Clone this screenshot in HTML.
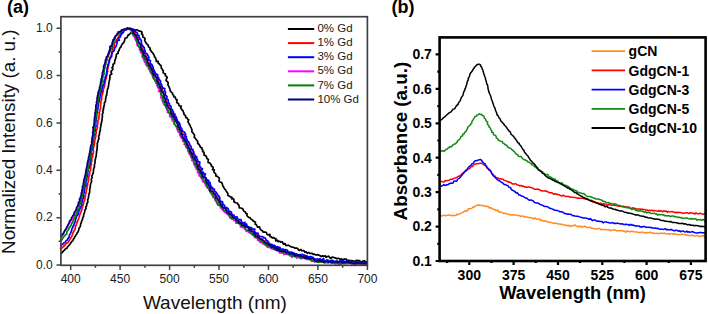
<!DOCTYPE html>
<html><head><meta charset="utf-8"><style>
html,body{margin:0;padding:0;background:#fff;}
body{width:708px;height:314px;overflow:hidden;}
svg{display:block;}
text{font-family:"Liberation Sans",sans-serif;}
.b{font-weight:bold;}
</style></head><body>
<svg width="708" height="314" viewBox="0 0 708 314">
<rect x="0" y="0" width="708" height="314" fill="#fff"/>

<g fill="none" stroke-width="1.7" stroke-linejoin="round" stroke-linecap="round">
<path stroke="#000000" d="M61.0 253.6 L61.9 252.8 L62.7 251.9 L63.4 250.9 L64.4 250.2 L65.1 249.2 L66.1 248.5 L67.2 247.9 L67.7 246.7 L68.4 245.8 L69.4 245.0 L70.1 244.1 L70.8 243.1 L71.4 242.0 L72.2 241.2 L73.1 240.3 L73.4 239.0 L74.3 238.2 L74.6 237.0 L75.4 236.1 L75.9 235.0 L76.8 234.1 L77.1 232.9 L78.0 232.0 L78.4 230.9 L78.8 229.8 L78.8 228.5 L79.7 227.5 L80.2 226.4 L80.6 225.3 L80.6 224.0 L81.2 223.0 L81.4 221.8 L81.8 220.7 L82.6 219.6 L82.5 218.4 L83.0 217.3 L83.6 216.2 L83.6 214.9 L84.0 213.8 L84.4 212.7 L84.8 211.5 L84.8 210.3 L85.5 209.2 L86.1 208.2 L85.8 206.8 L86.7 205.8 L86.8 204.6 L86.9 203.4 L87.8 202.4 L87.8 201.1 L87.6 199.9 L88.1 198.8 L88.5 197.6 L88.5 196.4 L88.9 195.3 L89.0 194.0 L89.4 192.9 L89.8 191.7 L89.5 190.5 L89.9 189.3 L89.9 188.1 L90.3 187.0 L90.2 185.7 L90.5 184.6 L90.8 183.4 L91.3 182.3 L91.6 181.1 L91.2 179.8 L91.6 178.7 L92.2 177.5 L91.8 176.2 L92.4 175.1 L92.7 174.0 L93.3 172.9 L93.4 171.7 L93.4 170.4 L93.6 169.3 L93.9 168.1 L94.5 167.0 L94.3 165.7 L94.5 164.6 L94.9 163.4 L95.0 162.2 L95.1 161.0 L95.1 159.8 L95.6 158.7 L95.6 157.4 L96.2 156.3 L96.3 155.1 L96.3 153.9 L96.6 152.7 L96.5 151.5 L97.0 150.4 L96.9 149.2 L97.3 148.0 L97.0 146.7 L97.5 145.6 L97.2 144.3 L97.3 143.1 L97.9 142.0 L98.0 140.8 L98.4 139.7 L99.1 138.6 L98.6 137.3 L98.8 136.1 L99.3 134.9 L99.5 133.8 L99.6 132.6 L99.8 131.4 L100.3 130.2 L100.4 129.1 L100.3 127.8 L100.7 126.7 L101.0 125.5 L100.9 124.3 L101.5 123.1 L101.4 121.9 L102.0 120.8 L102.0 119.6 L102.2 118.4 L102.2 117.2 L102.5 116.0 L102.2 114.8 L102.6 113.6 L103.1 112.5 L102.7 111.2 L103.5 110.1 L103.1 108.8 L103.9 107.7 L103.7 106.5 L104.3 105.4 L104.4 104.2 L104.3 102.9 L105.2 101.9 L105.5 100.7 L105.5 99.5 L105.7 98.3 L106.0 97.1 L106.1 95.9 L106.8 94.9 L106.7 93.6 L107.0 92.5 L107.1 91.3 L107.4 90.1 L107.5 88.9 L108.3 87.8 L108.2 86.6 L108.7 85.5 L108.7 84.2 L108.8 83.0 L109.1 81.9 L109.3 80.7 L109.7 79.5 L109.8 78.3 L110.0 77.2 L109.8 75.9 L110.3 74.8 L111.8 73.9 L111.0 72.4 L111.2 71.2 L112.1 70.3 L113.0 69.3 L112.0 67.7 L113.0 66.7 L113.1 65.5 L113.0 64.2 L114.5 63.5 L114.5 62.2 L114.9 61.1 L114.9 59.8 L115.8 58.8 L115.7 57.5 L116.3 56.5 L116.2 55.2 L116.6 54.0 L118.2 53.4 L117.9 51.9 L118.8 51.0 L119.2 49.9 L119.6 48.7 L120.1 47.7 L121.1 46.8 L121.3 45.6 L121.9 44.6 L122.6 43.5 L123.7 42.8 L124.1 41.6 L124.6 40.5 L124.8 39.3 L125.2 38.1 L126.8 37.7 L127.5 36.8 L127.8 35.5 L128.9 34.8 L129.8 34.0 L130.6 33.2 L131.5 32.5 L132.1 31.2 L133.6 31.4 L134.0 29.6 L135.5 30.2 L136.6 29.8 L137.7 30.0 L138.5 30.8 L139.4 31.2 L141.1 31.3 L142.0 32.2 L141.5 33.9 L142.7 34.6 L142.8 35.9 L142.9 37.2 L144.4 37.8 L145.1 38.8 L144.6 40.4 L145.2 41.4 L145.9 42.4 L146.3 43.5 L147.3 44.3 L148.2 45.2 L148.3 46.5 L149.3 47.3 L150.2 48.1 L150.0 49.7 L150.9 50.5 L151.3 51.7 L152.5 52.4 L153.0 53.5 L153.7 54.5 L154.3 55.5 L154.5 56.8 L155.5 57.6 L155.7 58.9 L156.3 59.9 L156.3 61.4 L158.3 61.4 L158.1 63.0 L159.2 63.8 L159.8 64.8 L161.0 65.5 L161.2 66.7 L161.3 68.1 L162.2 69.0 L162.6 70.1 L163.3 71.1 L163.1 72.5 L164.1 73.4 L165.5 74.1 L165.3 75.5 L166.3 76.4 L167.3 77.3 L166.5 78.9 L166.0 80.3 L167.0 81.3 L167.9 82.2 L168.2 83.4 L167.7 84.8 L168.5 85.8 L169.0 86.9 L169.5 88.0 L169.9 89.1 L170.1 90.4 L170.8 91.4 L171.5 92.4 L172.6 93.1 L172.6 94.5 L173.7 95.2 L173.7 96.7 L175.3 97.1 L175.5 98.4 L176.0 99.4 L177.2 100.1 L176.6 101.9 L177.3 102.9 L178.6 103.5 L178.7 104.8 L179.4 105.8 L181.3 106.1 L180.6 107.9 L181.4 108.8 L181.9 109.9 L183.0 110.7 L183.3 111.9 L183.9 112.9 L183.9 114.3 L184.9 115.1 L185.7 116.0 L185.7 117.4 L187.1 118.0 L187.6 119.1 L188.8 119.9 L187.8 121.6 L188.5 122.6 L189.0 123.7 L189.6 124.8 L190.2 125.8 L190.6 126.9 L191.3 128.0 L191.7 129.1 L192.0 130.3 L191.8 131.6 L192.7 132.6 L193.4 133.6 L194.1 134.6 L194.6 135.7 L194.1 137.2 L195.1 138.1 L195.8 139.1 L196.6 140.0 L197.5 140.9 L197.6 142.2 L197.8 143.5 L198.9 144.2 L199.5 145.3 L200.1 146.3 L200.5 147.4 L202.0 147.9 L201.9 149.4 L202.9 150.2 L202.6 151.8 L204.1 152.3 L204.0 153.8 L204.1 155.1 L205.6 155.6 L206.4 156.5 L206.6 157.8 L207.3 158.8 L208.4 159.5 L208.2 161.0 L208.0 162.5 L209.8 162.9 L210.4 163.9 L211.4 164.7 L211.3 166.1 L212.7 166.7 L213.2 167.8 L212.6 169.6 L214.3 169.9 L213.9 171.6 L214.3 172.8 L215.5 173.4 L215.9 174.6 L215.8 176.0 L217.5 176.4 L218.3 177.3 L219.3 178.2 L219.2 179.6 L219.0 181.1 L219.9 182.0 L221.5 182.4 L222.1 183.5 L222.5 184.6 L222.7 185.9 L223.6 186.8 L224.0 187.9 L224.6 188.9 L225.6 189.8 L226.1 190.8 L226.7 191.9 L227.5 192.8 L227.9 194.0 L227.9 195.5 L229.2 196.0 L230.2 196.8 L231.8 197.1 L231.6 198.8 L233.4 198.7 L234.0 199.8 L233.8 201.6 L234.8 202.4 L236.0 202.8 L237.5 203.0 L237.9 204.4 L238.9 205.1 L239.2 206.5 L239.3 208.0 L241.0 208.0 L242.2 208.5 L243.2 209.3 L243.4 210.6 L244.3 211.5 L245.5 212.0 L245.7 213.4 L247.1 213.8 L246.9 215.6 L247.8 216.5 L248.6 217.4 L250.1 217.5 L250.5 218.8 L251.6 219.4 L252.6 220.2 L253.4 221.1 L254.6 221.6 L255.5 222.4 L255.2 224.2 L256.4 224.8 L257.0 225.9 L257.5 227.1 L259.5 226.8 L259.9 228.1 L260.4 229.3 L261.2 230.2 L262.4 230.6 L262.9 232.0 L264.2 232.2 L265.7 232.2 L266.6 232.9 L267.1 234.4 L268.2 234.9 L270.0 234.3 L270.0 236.6 L271.3 236.8 L272.0 237.8 L273.6 237.6 L274.6 238.3 L275.9 238.5 L275.7 241.0 L277.6 240.2 L278.1 241.7 L279.8 241.2 L280.6 242.2 L282.2 241.8 L282.9 243.0 L283.6 244.3 L285.2 243.6 L285.8 245.4 L287.0 245.5 L288.5 245.2 L289.5 245.9 L290.6 246.4 L291.6 247.0 L292.8 247.2 L294.0 247.5 L295.0 248.2 L296.3 248.2 L297.5 248.4 L298.3 249.5 L299.3 250.4 L300.9 249.5 L301.7 250.7 L303.0 250.7 L304.2 250.9 L305.0 252.3 L306.4 251.9 L307.2 253.4 L308.8 252.4 L309.7 253.3 L311.0 253.3 L312.2 253.3 L313.2 254.3 L314.5 254.2 L315.5 254.9 L316.8 254.9 L318.1 254.6 L319.1 255.4 L320.3 255.8 L321.3 256.6 L322.7 255.8 L323.8 256.5 L325.1 255.7 L326.1 257.3 L327.4 256.5 L328.7 256.2 L329.7 257.5 L330.8 258.3 L332.2 257.0 L333.4 257.4 L334.5 257.8 L335.7 257.8 L336.8 258.8 L338.1 258.3 L339.2 258.6 L340.3 259.5 L341.6 258.9 L342.7 259.8 L344.0 259.2 L345.2 259.2 L346.4 259.0 L347.3 261.3 L348.7 260.2 L349.9 260.7 L351.1 260.6 L352.2 260.9 L353.4 260.9 L354.5 262.1 L355.9 260.5 L357.1 260.3 L358.3 260.7 L359.5 260.6 L360.6 261.9 L361.8 262.0 L363.1 261.0 L364.3 260.8 L365.4 261.4 L366.5 262.5"/>
<path stroke="#ff0000" d="M60.5 248.5 L61.9 248.2 L62.5 247.1 L63.7 246.7 L64.3 245.5 L65.3 244.8 L65.9 243.7 L66.9 243.0 L68.1 242.5 L68.8 241.5 L69.3 240.4 L69.9 239.4 L70.3 238.2 L71.2 237.3 L71.8 236.3 L72.2 235.2 L72.7 234.1 L72.9 232.9 L73.6 231.8 L74.0 230.7 L74.7 229.7 L75.3 228.7 L75.3 227.4 L75.6 226.2 L76.2 225.1 L76.5 224.0 L76.9 222.8 L77.4 221.8 L77.6 220.5 L78.4 219.6 L78.6 218.4 L79.1 217.3 L79.4 216.1 L79.7 214.9 L80.1 213.8 L80.7 212.7 L81.0 211.6 L81.6 210.5 L81.9 209.3 L82.0 208.1 L82.7 207.1 L82.7 205.8 L83.2 204.7 L83.6 203.6 L83.5 202.3 L84.3 201.3 L84.6 200.1 L84.8 198.9 L85.0 197.8 L85.2 196.6 L85.3 195.4 L85.7 194.2 L85.9 193.0 L86.3 191.9 L86.2 190.7 L86.7 189.5 L86.9 188.4 L87.1 187.2 L87.2 186.0 L87.7 184.8 L87.3 183.6 L88.1 182.5 L88.2 181.3 L88.5 180.1 L88.7 178.9 L88.7 177.7 L89.0 176.5 L89.4 175.4 L89.6 174.2 L89.8 173.0 L89.6 171.8 L90.3 170.7 L90.6 169.5 L90.8 168.3 L90.8 167.1 L90.6 165.9 L91.4 164.8 L91.3 163.5 L91.0 162.3 L91.9 161.2 L91.6 159.9 L91.8 158.8 L92.2 157.6 L92.8 156.5 L92.6 155.2 L92.9 154.1 L93.4 152.9 L93.5 151.7 L93.3 150.5 L93.4 149.3 L93.4 148.1 L93.7 146.9 L94.1 145.8 L94.3 144.6 L94.4 143.4 L94.8 142.2 L94.6 141.0 L94.9 139.8 L95.3 138.7 L95.5 137.5 L95.8 136.3 L95.9 135.1 L95.9 133.9 L96.3 132.8 L96.2 131.5 L96.3 130.3 L97.0 129.2 L97.1 128.0 L97.4 126.9 L97.2 125.6 L97.7 124.5 L97.8 123.3 L98.0 122.1 L97.8 120.8 L98.5 119.7 L99.0 118.6 L99.0 117.4 L98.9 116.2 L99.2 115.0 L99.6 113.8 L98.9 112.5 L99.7 111.4 L100.0 110.2 L100.2 109.1 L100.6 107.9 L100.6 106.7 L100.5 105.5 L100.7 104.3 L101.0 103.1 L100.8 101.9 L101.1 100.7 L101.5 99.6 L101.9 98.4 L101.6 97.2 L101.9 96.0 L102.2 94.8 L102.7 93.7 L102.7 92.5 L103.3 91.4 L103.1 90.1 L103.6 89.0 L103.9 87.8 L104.5 86.7 L104.8 85.6 L104.5 84.3 L104.9 83.1 L105.4 82.0 L105.5 80.8 L105.5 79.6 L106.3 78.5 L106.4 77.3 L106.7 76.1 L106.7 74.9 L107.2 73.8 L107.2 72.6 L107.7 71.5 L107.4 70.2 L107.7 69.0 L108.1 67.9 L108.1 66.7 L108.6 65.5 L108.7 64.3 L108.6 63.1 L109.0 61.9 L109.1 60.7 L109.7 59.6 L109.5 58.4 L109.9 57.2 L110.8 56.2 L111.6 55.2 L111.9 54.1 L111.4 52.7 L111.9 51.6 L113.0 50.7 L112.7 49.3 L112.8 48.0 L113.8 47.2 L114.4 46.1 L114.3 44.8 L114.3 43.5 L114.9 42.4 L116.3 41.7 L116.2 40.3 L117.0 39.4 L117.7 38.4 L118.4 37.4 L118.6 36.2 L119.6 35.4 L119.8 34.0 L120.8 33.3 L121.4 32.1 L123.0 32.1 L123.5 30.9 L124.4 30.0 L125.5 29.6 L126.7 29.2 L128.0 29.3 L129.0 28.1 L130.3 28.4 L131.5 29.0 L132.0 30.7 L133.2 30.7 L134.4 31.2 L134.7 32.4 L134.7 33.7 L136.2 34.3 L136.7 35.4 L136.5 36.8 L137.3 37.7 L137.7 38.9 L138.7 39.7 L138.1 41.3 L138.7 42.4 L139.7 43.2 L140.1 44.4 L141.8 44.9 L141.1 46.5 L142.0 47.5 L142.3 48.7 L142.7 49.8 L143.6 50.7 L144.7 51.5 L144.4 53.0 L145.3 53.8 L145.6 55.0 L146.2 56.1 L146.6 57.2 L147.9 58.0 L146.8 59.7 L147.8 60.7 L147.9 61.9 L148.1 63.2 L149.4 63.8 L150.8 64.5 L150.9 65.8 L151.6 66.8 L151.9 68.0 L152.2 69.2 L153.7 69.8 L153.2 71.3 L154.6 72.0 L154.4 73.5 L155.1 74.4 L155.7 75.5 L156.2 76.6 L156.9 77.5 L157.5 78.6 L158.5 79.4 L158.3 80.9 L158.0 82.3 L158.5 83.4 L159.3 84.4 L160.1 85.4 L161.2 86.2 L160.7 87.7 L161.8 88.5 L162.3 89.6 L162.8 90.7 L163.1 91.9 L163.7 92.9 L164.0 94.1 L164.8 95.1 L164.9 96.3 L164.0 97.9 L165.5 98.7 L166.0 99.8 L166.1 101.0 L166.4 102.2 L167.7 102.9 L167.8 104.2 L167.8 105.5 L168.6 106.5 L169.2 107.5 L169.1 108.9 L170.7 109.4 L170.9 110.7 L171.7 111.6 L171.5 113.1 L173.5 113.4 L173.5 114.7 L174.0 115.8 L174.1 117.1 L174.6 118.2 L174.8 119.4 L176.7 119.9 L176.2 121.4 L177.2 122.3 L177.9 123.3 L177.9 124.6 L179.1 125.4 L180.1 126.2 L179.9 127.6 L181.0 128.4 L181.2 129.7 L181.3 131.0 L181.8 132.0 L181.9 133.4 L183.2 134.1 L184.3 134.8 L184.5 136.1 L185.1 137.1 L185.7 138.1 L185.5 139.6 L186.5 140.4 L187.6 141.3 L187.0 142.9 L187.8 143.8 L188.1 145.0 L188.7 146.0 L189.0 147.2 L189.8 148.2 L189.8 149.5 L190.7 150.4 L191.2 151.5 L191.8 152.6 L193.1 153.2 L193.1 154.6 L193.7 155.6 L194.1 156.8 L195.3 157.5 L194.6 159.2 L195.8 159.9 L196.9 160.8 L197.6 161.8 L197.4 163.1 L197.8 164.3 L198.6 165.3 L198.7 166.5 L199.6 167.5 L199.6 168.8 L200.7 169.5 L200.9 170.8 L200.9 172.2 L200.6 173.7 L203.1 173.7 L203.4 174.9 L204.2 175.8 L203.9 177.4 L205.5 177.8 L205.8 179.1 L206.2 180.2 L207.3 181.0 L207.9 182.0 L208.2 183.2 L209.7 183.7 L210.0 184.9 L210.1 186.3 L210.4 187.5 L211.2 188.4 L212.7 188.9 L212.7 190.3 L212.7 191.7 L213.5 192.6 L214.4 193.5 L215.5 194.2 L215.4 195.7 L216.6 196.3 L217.6 197.1 L218.0 198.3 L217.6 200.0 L218.9 200.6 L219.1 201.9 L220.6 202.3 L220.6 203.8 L222.0 204.2 L222.6 205.3 L222.1 207.3 L223.7 207.5 L225.0 207.9 L225.7 209.0 L226.3 210.0 L226.7 211.3 L228.3 211.4 L229.7 211.7 L229.9 213.2 L230.7 214.1 L231.5 215.0 L231.9 216.3 L233.2 216.7 L233.9 217.7 L235.6 217.6 L235.8 219.3 L236.3 220.6 L237.7 220.7 L238.9 221.2 L239.9 221.8 L240.3 223.3 L242.2 222.7 L242.9 223.8 L243.7 224.8 L244.6 225.6 L246.0 225.7 L246.7 226.8 L247.8 227.2 L248.6 228.1 L249.7 228.8 L251.0 229.0 L251.5 230.3 L252.1 231.5 L253.7 231.4 L254.4 232.5 L254.9 233.7 L256.5 233.7 L257.0 235.0 L258.4 235.2 L258.4 237.0 L258.9 238.3 L260.0 238.9 L261.8 238.6 L262.3 239.8 L263.5 240.3 L264.4 241.0 L264.9 242.5 L266.9 241.8 L267.0 243.7 L268.4 243.8 L268.9 245.2 L270.3 245.2 L271.6 245.4 L272.4 246.5 L273.3 247.2 L274.6 247.4 L275.6 248.1 L276.9 248.0 L278.4 247.5 L278.9 249.7 L280.0 250.0 L281.3 250.1 L282.4 250.4 L283.4 251.4 L284.8 250.9 L286.0 251.2 L287.0 251.9 L287.9 253.1 L289.5 252.0 L290.2 253.8 L291.6 253.1 L292.9 253.2 L293.6 254.9 L295.0 254.5 L296.3 254.1 L297.3 255.0 L298.3 256.0 L299.4 256.5 L300.8 255.8 L301.9 256.6 L303.0 257.0 L304.4 256.5 L305.4 257.3 L306.6 257.4 L307.9 257.3 L309.0 257.6 L310.1 258.2 L311.3 258.5 L312.5 258.4 L313.7 258.8 L314.6 260.0 L315.9 259.7 L317.0 260.4 L318.2 260.8 L319.4 260.7 L320.4 261.9 L321.9 260.3 L323.0 261.4 L324.3 260.9 L325.3 262.3 L326.5 262.3 L327.9 260.2 L329.1 260.9 L330.2 262.0 L331.4 262.1 L332.6 262.1 L333.8 261.7 L335.0 262.1 L336.2 262.3 L337.4 261.9 L338.6 262.6 L339.9 260.7 L341.0 262.5 L342.2 261.5 L343.4 262.8 L344.6 262.1 L345.8 261.8 L347.0 262.6 L348.2 261.8 L349.4 261.9 L350.6 261.5 L351.8 262.5 L353.0 262.9 L354.2 263.2 L355.4 262.6 L356.6 263.3 L357.8 262.7 L359.0 262.7 L360.2 263.1 L361.4 263.5 L362.6 262.7 L363.8 262.8 L365.0 262.8 L366.2 263.0 L366.9 262.4"/>
<path stroke="#0000ff" d="M61.1 245.6 L61.9 244.6 L63.0 244.1 L63.7 243.1 L64.8 242.5 L65.6 241.6 L66.3 240.6 L67.5 239.9 L67.8 238.7 L68.7 237.8 L69.1 236.7 L69.3 235.4 L69.9 234.4 L70.5 233.4 L71.0 232.2 L71.4 231.1 L71.8 230.0 L71.9 228.7 L72.8 227.8 L72.8 226.5 L73.8 225.6 L74.0 224.4 L74.4 223.3 L74.9 222.2 L75.4 221.1 L75.4 219.8 L75.8 218.7 L76.3 217.6 L76.5 216.4 L77.2 215.3 L78.2 214.4 L78.0 213.1 L78.8 212.1 L78.8 210.8 L79.6 209.9 L79.9 208.7 L80.4 207.6 L80.9 206.5 L81.6 205.4 L81.6 204.2 L81.9 203.0 L81.9 201.8 L82.6 200.7 L82.7 199.5 L83.2 198.4 L83.2 197.2 L83.9 196.1 L83.3 194.7 L83.9 193.6 L84.4 192.5 L84.3 191.3 L84.4 190.1 L84.8 188.9 L84.7 187.7 L85.3 186.6 L86.1 185.5 L86.0 184.3 L85.7 183.0 L85.9 181.8 L86.3 180.7 L86.9 179.5 L86.7 178.3 L86.9 177.1 L87.5 176.0 L87.8 174.8 L87.7 173.6 L87.8 172.4 L87.9 171.2 L88.4 170.1 L88.2 168.8 L89.2 167.8 L89.1 166.5 L89.5 165.4 L90.1 164.3 L90.1 163.1 L89.8 161.8 L90.5 160.7 L90.7 159.5 L90.5 158.2 L90.6 157.1 L91.0 155.9 L90.8 154.7 L91.8 153.6 L91.0 152.3 L91.5 151.1 L91.9 150.0 L92.1 148.8 L92.3 147.6 L92.5 146.4 L92.6 145.2 L93.1 144.1 L92.5 142.8 L93.2 141.7 L93.2 140.5 L93.5 139.3 L93.7 138.1 L93.6 136.9 L93.9 135.7 L94.4 134.6 L94.5 133.4 L94.4 132.1 L95.2 131.0 L95.4 129.9 L94.7 128.6 L95.3 127.4 L96.0 126.3 L95.7 125.1 L95.8 123.9 L95.8 122.7 L95.9 121.5 L96.2 120.3 L96.2 119.1 L96.7 117.9 L96.6 116.7 L96.7 115.5 L96.7 114.3 L97.1 113.1 L97.1 111.9 L97.4 110.8 L97.9 109.6 L97.9 108.4 L98.1 107.2 L98.3 106.0 L98.4 104.8 L98.6 103.6 L98.7 102.5 L99.2 101.3 L99.0 100.1 L99.9 99.0 L99.8 97.8 L99.9 96.6 L100.3 95.4 L100.6 94.3 L101.1 93.2 L101.2 91.9 L102.0 90.9 L101.9 89.6 L102.0 88.4 L102.7 87.4 L102.7 86.1 L103.5 85.1 L104.0 84.0 L104.2 82.8 L104.0 81.5 L104.4 80.4 L105.2 79.3 L105.1 78.1 L105.3 76.9 L105.8 75.8 L106.5 74.7 L106.5 73.5 L106.5 72.2 L106.8 71.1 L107.1 69.9 L107.1 68.7 L107.3 67.5 L107.8 66.4 L107.8 65.2 L108.3 64.0 L108.7 62.9 L109.5 61.9 L109.2 60.5 L109.8 59.5 L110.2 58.3 L110.9 57.4 L111.7 56.4 L111.5 55.0 L111.9 53.8 L112.1 52.6 L112.9 51.7 L114.1 50.9 L114.4 49.7 L114.5 48.4 L115.3 47.5 L115.9 46.5 L116.6 45.4 L116.6 44.1 L117.2 43.1 L116.9 41.7 L117.7 40.7 L119.4 40.1 L118.2 38.3 L119.6 37.6 L120.4 36.6 L120.7 35.5 L121.2 34.3 L122.2 33.5 L123.0 32.6 L123.8 31.7 L124.1 30.2 L125.6 30.2 L126.5 29.3 L127.7 29.0 L129.0 29.0 L130.2 29.1 L131.3 29.2 L132.6 28.8 L133.5 29.8 L134.4 30.4 L135.2 31.1 L135.8 32.1 L137.1 32.7 L137.6 33.8 L137.7 35.0 L139.1 35.7 L138.9 37.1 L139.7 38.1 L140.1 39.2 L141.2 40.1 L141.3 41.3 L141.4 42.6 L141.5 43.9 L141.9 45.0 L142.9 45.9 L143.5 46.9 L144.3 47.9 L144.2 49.2 L145.0 50.2 L145.2 51.4 L145.2 52.7 L146.5 53.4 L147.6 54.3 L147.8 55.5 L148.6 56.5 L148.9 57.6 L148.3 59.2 L149.2 60.1 L150.5 60.8 L150.1 62.4 L150.3 63.6 L151.6 64.3 L152.3 65.3 L152.7 66.4 L153.0 67.6 L153.4 68.8 L153.7 70.0 L154.3 71.0 L154.8 72.1 L155.3 73.2 L156.2 74.1 L157.7 74.7 L157.6 76.0 L158.0 77.2 L158.8 78.1 L158.8 79.5 L159.9 80.3 L160.7 81.2 L160.2 82.8 L161.0 83.7 L161.7 84.7 L161.9 85.9 L162.3 87.1 L163.1 88.0 L164.8 88.6 L164.5 90.1 L164.8 91.2 L165.5 92.3 L165.3 93.6 L165.3 94.9 L166.4 95.8 L167.1 96.8 L166.1 98.4 L167.6 99.2 L168.3 100.2 L168.1 101.5 L168.5 102.7 L169.4 103.6 L169.3 105.0 L170.4 105.8 L171.1 106.8 L171.2 108.1 L171.5 109.3 L172.6 110.0 L172.8 111.3 L173.6 112.2 L172.9 113.9 L175.0 114.2 L174.6 115.7 L175.8 116.5 L176.4 117.5 L176.6 118.8 L177.0 119.9 L177.4 121.0 L178.4 121.9 L179.3 122.8 L179.8 123.9 L179.9 125.1 L180.4 126.2 L180.6 127.5 L181.6 128.3 L181.9 129.5 L182.2 130.7 L183.3 131.5 L184.6 132.2 L185.0 133.3 L185.7 134.3 L184.9 136.1 L186.5 136.6 L186.1 138.1 L186.9 139.1 L187.0 140.4 L187.8 141.3 L188.8 142.2 L189.3 143.3 L189.7 144.4 L190.2 145.5 L191.0 146.4 L191.3 147.6 L191.1 149.1 L193.0 149.4 L192.7 150.9 L193.8 151.7 L193.9 153.1 L194.1 154.3 L195.1 155.1 L195.3 156.4 L196.8 156.9 L196.2 158.6 L197.5 159.3 L197.5 160.6 L198.2 161.6 L199.9 162.1 L199.6 163.6 L199.7 164.9 L199.4 166.3 L200.6 167.1 L201.1 168.2 L202.5 168.8 L201.5 170.7 L201.9 171.9 L203.4 172.4 L204.1 173.4 L205.4 174.1 L204.7 175.8 L204.3 177.4 L206.0 177.9 L206.3 179.1 L207.3 179.9 L208.7 180.5 L208.1 182.2 L210.0 182.4 L210.1 183.8 L210.5 185.0 L210.8 186.2 L211.7 187.0 L212.3 188.0 L213.6 188.7 L214.5 189.5 L214.4 191.0 L215.5 191.7 L216.4 192.6 L217.0 193.6 L217.3 194.8 L218.6 195.4 L219.0 196.6 L219.8 197.5 L219.6 199.1 L220.1 200.2 L220.0 201.7 L222.4 201.5 L222.7 202.7 L222.7 204.3 L223.9 204.8 L224.7 205.7 L224.5 207.4 L226.3 207.5 L227.4 208.1 L228.3 208.9 L228.4 210.5 L229.2 211.3 L230.8 211.5 L231.5 212.5 L231.7 214.0 L232.6 214.8 L234.0 215.1 L234.3 216.4 L235.3 217.2 L237.1 216.9 L237.5 218.3 L238.2 219.4 L239.5 219.6 L241.0 219.6 L241.3 221.2 L242.0 222.3 L242.7 223.4 L245.0 222.2 L244.4 225.2 L246.6 224.0 L246.9 225.7 L247.8 226.6 L248.9 227.1 L250.1 227.4 L251.6 227.5 L251.8 229.1 L253.3 229.2 L254.9 229.1 L253.8 232.4 L255.5 232.2 L256.0 233.5 L258.0 233.0 L258.0 234.8 L258.9 235.7 L259.8 236.4 L261.3 236.5 L262.7 236.7 L263.3 237.9 L264.9 237.7 L265.7 238.7 L266.0 240.3 L267.3 240.5 L267.9 241.6 L268.9 242.4 L269.2 244.1 L270.4 244.4 L271.9 244.4 L272.5 245.7 L274.2 245.2 L275.1 246.0 L275.9 247.1 L277.5 246.5 L278.4 247.4 L279.7 247.3 L280.5 248.5 L281.3 249.8 L282.9 248.9 L283.9 249.8 L285.2 249.6 L286.4 249.9 L287.5 250.2 L288.1 252.1 L289.1 253.0 L290.6 252.4 L292.0 252.1 L292.9 253.2 L294.2 253.0 L295.1 254.0 L296.4 254.1 L297.5 254.4 L298.6 254.9 L300.0 254.5 L301.1 254.9 L302.5 254.4 L303.5 255.4 L304.8 255.1 L305.8 256.1 L307.0 255.9 L308.1 256.8 L309.2 257.3 L310.6 256.4 L311.7 257.1 L312.9 257.3 L313.8 258.5 L314.9 259.4 L316.1 259.2 L317.5 258.7 L318.4 260.1 L320.0 258.6 L320.8 260.6 L322.2 259.5 L323.6 258.5 L324.3 261.9 L325.6 261.4 L326.9 259.9 L328.1 260.8 L329.3 260.6 L330.5 260.9 L331.7 260.1 L332.9 260.6 L334.0 261.4 L335.3 261.3 L336.4 261.9 L337.7 261.3 L338.8 262.7 L340.1 261.0 L341.2 261.6 L342.5 260.3 L343.7 260.8 L344.8 262.4 L346.1 261.1 L347.2 262.0 L348.4 261.7 L349.7 261.2 L350.9 261.6 L352.1 261.6 L353.3 261.6 L354.4 262.4 L355.6 262.4 L356.9 261.7 L358.1 261.5 L359.2 262.3 L360.4 262.1 L361.6 262.8 L362.8 263.8 L364.0 262.8 L365.2 262.3 L366.4 262.2 L366.9 261.8"/>
<path stroke="#ff00ff" d="M60.8 237.1 L61.5 236.1 L62.3 235.2 L62.9 234.2 L63.8 233.3 L64.2 232.1 L64.8 231.1 L65.2 229.9 L66.4 229.2 L66.7 228.0 L67.5 227.1 L67.9 225.9 L68.6 225.0 L68.8 223.7 L69.6 222.8 L70.6 222.0 L70.4 220.5 L71.5 219.7 L72.2 218.7 L72.5 217.5 L73.1 216.5 L73.8 215.5 L74.0 214.2 L74.8 213.3 L75.0 212.1 L75.6 211.0 L76.1 210.0 L76.8 208.9 L77.3 207.9 L77.9 206.8 L77.9 205.5 L79.1 204.7 L79.3 203.5 L79.6 202.3 L79.7 201.1 L80.1 199.9 L80.6 198.8 L80.8 197.6 L80.6 196.4 L81.5 195.3 L82.3 194.3 L81.4 192.9 L82.3 191.8 L82.4 190.6 L82.6 189.4 L83.2 188.3 L82.8 187.0 L83.4 185.9 L84.0 184.8 L83.8 183.6 L84.0 182.4 L84.4 181.2 L84.5 180.0 L85.2 178.9 L84.9 177.6 L85.5 176.6 L85.3 175.3 L86.0 174.2 L86.0 173.0 L85.6 171.7 L86.5 170.6 L86.5 169.4 L86.9 168.3 L87.6 167.2 L87.1 165.9 L87.4 164.7 L88.2 163.6 L88.1 162.4 L88.7 161.3 L88.7 160.0 L88.6 158.8 L89.0 157.7 L89.6 156.6 L89.7 155.4 L89.8 154.1 L90.0 153.0 L90.2 151.8 L90.3 150.6 L91.1 149.5 L90.9 148.3 L90.8 147.0 L91.2 145.9 L91.7 144.7 L91.9 143.6 L91.9 142.3 L91.9 141.1 L92.3 140.0 L92.0 138.7 L92.3 137.6 L93.0 136.4 L92.8 135.2 L93.2 134.0 L93.5 132.9 L93.5 131.7 L93.5 130.5 L94.2 129.3 L94.0 128.1 L93.9 126.9 L94.3 125.7 L94.3 124.5 L94.2 123.3 L94.5 122.1 L94.6 120.9 L94.3 119.7 L94.9 118.5 L95.0 117.3 L95.2 116.1 L95.0 114.9 L95.5 113.8 L95.7 112.6 L95.9 111.4 L95.8 110.2 L96.4 109.0 L96.1 107.8 L96.5 106.6 L97.0 105.5 L96.7 104.2 L96.9 103.1 L97.4 101.9 L97.2 100.7 L97.4 99.5 L97.7 98.3 L98.1 97.2 L97.5 95.9 L98.1 94.7 L98.3 93.6 L98.6 92.4 L98.9 91.2 L99.2 90.1 L99.8 89.0 L99.8 87.7 L100.3 86.6 L100.6 85.5 L100.6 84.2 L101.1 83.1 L101.7 82.0 L101.6 80.8 L101.6 79.5 L102.0 78.4 L102.0 77.2 L102.5 76.0 L102.9 74.9 L102.7 73.6 L103.1 72.5 L103.6 71.4 L103.5 70.1 L103.9 69.0 L103.8 67.7 L104.1 66.6 L104.5 65.4 L105.4 64.4 L105.0 63.1 L105.3 61.9 L105.7 60.8 L106.2 59.7 L106.7 58.6 L107.0 57.4 L107.9 56.5 L107.9 55.2 L108.6 54.2 L108.8 53.0 L109.3 51.9 L109.3 50.6 L110.0 49.6 L110.5 48.5 L110.8 47.3 L110.4 45.9 L112.2 45.2 L112.0 43.9 L112.4 42.8 L112.9 41.7 L113.4 40.6 L114.1 39.6 L113.9 38.2 L114.7 37.2 L115.8 36.4 L116.4 35.4 L116.9 34.3 L117.6 33.3 L118.4 32.3 L119.5 31.8 L120.8 31.6 L121.3 30.1 L122.9 30.6 L123.9 29.9 L124.8 29.0 L126.1 29.4 L127.3 28.3 L128.7 28.4 L129.9 29.2 L130.6 30.3 L131.3 31.3 L132.0 32.3 L132.3 33.5 L133.8 34.2 L133.1 35.8 L134.4 36.5 L134.6 37.7 L135.0 38.9 L135.8 39.8 L136.4 40.9 L136.7 42.1 L136.7 43.4 L137.0 44.6 L137.5 45.7 L138.7 46.4 L139.1 47.6 L139.7 48.6 L139.6 50.0 L141.2 50.5 L140.3 52.3 L141.5 53.0 L142.2 54.1 L142.2 55.4 L142.3 56.6 L143.1 57.6 L143.2 58.8 L144.1 59.8 L144.1 61.1 L144.7 62.2 L145.8 63.0 L145.6 64.4 L146.7 65.2 L147.3 66.2 L148.3 67.0 L148.6 68.2 L148.7 69.5 L150.2 70.1 L149.9 71.6 L150.6 72.6 L151.2 73.7 L152.8 74.2 L152.4 75.7 L152.7 77.0 L153.8 77.7 L154.0 79.0 L155.6 79.5 L154.8 81.2 L155.9 82.0 L155.8 83.4 L157.5 84.0 L156.9 85.6 L157.8 86.5 L157.8 87.8 L159.0 88.6 L159.3 89.7 L158.5 91.3 L160.3 92.0 L160.6 93.1 L160.8 94.3 L161.6 95.3 L160.9 96.8 L161.1 98.0 L162.6 98.8 L163.4 99.7 L162.6 101.4 L163.0 102.5 L163.6 103.5 L164.0 104.7 L165.4 105.4 L165.6 106.6 L166.7 107.4 L167.2 108.4 L166.8 110.0 L168.1 110.7 L167.4 112.5 L168.9 113.0 L169.8 113.9 L169.7 115.3 L169.8 116.6 L171.0 117.3 L172.2 118.0 L172.1 119.4 L172.2 120.7 L173.5 121.4 L174.2 122.4 L174.0 123.9 L174.9 124.7 L176.0 125.5 L176.2 126.8 L176.9 127.8 L177.0 129.1 L177.6 130.1 L177.8 131.4 L178.5 132.3 L180.0 132.9 L179.7 134.4 L180.0 135.6 L180.8 136.6 L181.1 137.8 L182.3 138.5 L183.0 139.5 L182.6 141.0 L184.0 141.7 L185.0 142.5 L184.1 144.3 L185.4 145.0 L185.7 146.2 L186.7 147.0 L187.2 148.1 L187.6 149.2 L187.8 150.5 L188.1 151.7 L189.7 152.2 L189.0 153.9 L190.4 154.6 L190.9 155.6 L190.7 157.1 L191.6 158.0 L192.8 158.7 L191.8 160.5 L193.5 161.1 L193.5 162.4 L194.0 163.5 L194.0 164.8 L195.3 165.5 L195.1 166.9 L196.4 167.7 L196.1 169.1 L197.5 169.8 L197.8 171.0 L197.4 172.5 L198.7 173.2 L199.3 174.2 L199.0 175.8 L200.4 176.4 L201.6 177.1 L201.4 178.6 L203.0 179.1 L202.4 180.8 L203.0 181.9 L204.5 182.3 L205.1 183.3 L205.3 184.6 L206.1 185.6 L207.2 186.3 L207.0 187.8 L209.0 188.0 L208.8 189.5 L209.5 190.5 L210.1 191.6 L210.4 192.8 L211.8 193.3 L211.6 194.9 L212.6 195.6 L213.5 196.5 L214.5 197.3 L215.1 198.3 L215.0 199.8 L216.3 200.4 L216.4 201.7 L216.7 203.1 L217.4 204.0 L217.9 205.2 L219.5 205.5 L220.6 206.1 L220.4 207.8 L221.6 208.4 L222.0 209.6 L223.3 210.1 L223.7 211.4 L224.7 212.1 L225.6 212.9 L226.5 213.6 L227.4 214.4 L228.4 215.2 L229.3 216.0 L229.9 217.1 L231.4 217.2 L231.4 219.1 L233.0 219.0 L233.5 220.3 L234.8 220.6 L235.8 221.3 L235.9 223.1 L237.7 222.8 L239.0 223.1 L239.7 224.1 L240.5 225.0 L240.5 226.9 L242.2 226.7 L242.9 227.8 L244.5 227.7 L244.9 229.1 L245.7 230.0 L246.2 231.3 L248.1 230.9 L248.5 232.2 L249.6 232.9 L251.0 233.0 L251.5 234.3 L252.6 234.9 L254.3 234.7 L254.1 236.8 L255.0 237.6 L256.3 237.9 L257.6 238.2 L257.5 240.3 L258.9 240.4 L259.5 241.6 L260.3 242.5 L262.0 242.3 L262.5 243.7 L263.8 243.9 L264.7 244.7 L265.7 245.3 L266.7 246.0 L267.4 247.2 L268.7 247.3 L269.9 247.7 L271.0 248.1 L271.9 249.0 L273.3 248.7 L274.4 249.4 L275.4 250.1 L276.6 250.2 L277.6 250.9 L278.9 251.0 L279.5 252.9 L280.7 252.9 L282.0 252.8 L283.3 252.9 L284.0 254.6 L285.5 253.9 L286.7 254.1 L287.8 254.7 L288.9 255.0 L289.9 256.0 L291.3 255.5 L292.1 257.1 L293.7 255.7 L294.6 256.9 L296.0 256.2 L296.8 258.1 L298.3 257.2 L299.4 257.6 L300.5 258.4 L301.6 258.9 L303.1 257.7 L304.1 258.5 L305.4 258.1 L306.4 259.3 L307.6 259.4 L308.8 259.5 L310.0 259.6 L311.1 260.1 L312.4 260.2 L313.4 261.2 L314.4 262.0 L316.0 260.2 L317.0 261.5 L318.2 261.5 L319.3 262.3 L320.6 261.6 L321.7 262.2 L323.0 261.7 L324.1 262.9 L325.3 262.6 L326.5 262.5 L327.7 262.9 L328.9 262.6 L330.1 261.9 L331.3 263.3 L332.5 263.1 L333.7 262.9 L334.9 263.7 L336.0 263.9 L337.3 262.5 L338.5 262.8 L339.6 264.2 L340.8 264.2 L342.1 262.9 L343.3 262.7 L344.5 263.1 L345.7 263.2 L346.9 262.6 L348.1 263.6 L349.3 262.9 L350.5 263.0 L351.6 264.3 L352.9 263.4 L354.1 263.8 L355.3 264.2 L356.5 264.3 L357.7 263.7 L358.9 264.0 L360.1 263.5 L361.2 264.3 L362.5 264.3 L363.7 263.4 L364.9 264.1 L366.1 264.3 L366.8 264.3"/>
<path stroke="#008000" d="M61.3 240.6 L62.0 239.6 L62.5 238.4 L63.3 237.6 L63.9 236.5 L64.9 235.7 L65.5 234.7 L66.7 234.0 L66.8 232.7 L67.0 231.4 L67.9 230.5 L68.6 229.6 L68.9 228.4 L69.6 227.4 L70.3 226.4 L71.0 225.4 L71.4 224.3 L71.9 223.1 L72.8 222.3 L73.0 221.0 L73.6 220.0 L73.9 218.8 L74.5 217.8 L75.3 216.8 L75.3 215.5 L76.2 214.6 L76.8 213.5 L77.0 212.3 L77.6 211.3 L77.7 210.0 L78.7 209.1 L79.1 208.0 L79.3 206.8 L79.2 205.5 L79.7 204.4 L80.5 203.4 L81.0 202.3 L81.0 201.0 L81.5 199.9 L81.4 198.6 L81.7 197.5 L82.0 196.3 L82.4 195.2 L82.2 193.9 L83.0 192.8 L83.3 191.7 L83.0 190.4 L83.2 189.2 L83.8 188.1 L83.8 186.9 L83.7 185.6 L84.6 184.6 L84.7 183.4 L84.8 182.2 L85.7 181.2 L85.5 179.9 L85.5 178.7 L86.0 177.5 L86.0 176.3 L86.3 175.1 L86.9 174.0 L86.9 172.8 L87.2 171.7 L88.0 170.6 L88.0 169.4 L88.3 168.2 L88.5 167.0 L88.7 165.8 L89.2 164.7 L89.1 163.5 L89.7 162.4 L89.3 161.1 L89.7 159.9 L89.6 158.7 L90.1 157.6 L90.5 156.4 L90.9 155.3 L90.6 154.0 L91.0 152.8 L91.1 151.6 L91.2 150.4 L91.3 149.2 L91.8 148.1 L91.5 146.9 L92.2 145.7 L92.3 144.5 L92.3 143.3 L92.4 142.1 L92.5 140.9 L93.5 139.9 L92.9 138.6 L93.7 137.5 L93.6 136.2 L93.6 135.0 L93.5 133.8 L94.2 132.7 L94.5 131.5 L94.0 130.2 L94.3 129.1 L94.8 127.9 L94.7 126.7 L95.3 125.6 L94.8 124.3 L95.2 123.1 L94.9 121.9 L95.9 120.8 L95.4 119.5 L95.2 118.3 L95.8 117.2 L96.0 116.0 L96.6 114.9 L96.2 113.6 L96.4 112.4 L96.7 111.2 L97.1 110.1 L96.9 108.8 L97.3 107.7 L97.4 106.5 L97.3 105.3 L97.6 104.1 L97.7 102.9 L97.7 101.7 L98.4 100.6 L97.9 99.3 L98.7 98.2 L98.9 97.0 L98.9 95.8 L99.0 94.6 L99.4 93.4 L99.8 92.3 L100.2 91.2 L100.4 90.0 L100.8 88.9 L100.8 87.6 L101.2 86.5 L101.1 85.2 L101.9 84.2 L102.0 83.0 L102.1 81.8 L102.7 80.6 L102.8 79.4 L102.2 78.1 L103.1 77.1 L102.9 75.8 L103.7 74.7 L104.3 73.6 L103.8 72.3 L104.1 71.2 L104.3 70.0 L104.7 68.8 L105.0 67.6 L105.4 66.5 L105.1 65.2 L106.0 64.2 L105.7 62.9 L106.3 61.8 L106.8 60.7 L107.1 59.6 L107.1 58.3 L107.6 57.2 L108.1 56.1 L108.6 55.0 L109.3 54.0 L109.2 52.7 L110.0 51.7 L110.6 50.6 L111.0 49.5 L111.4 48.4 L112.3 47.4 L112.2 46.1 L112.8 45.0 L113.1 43.9 L114.1 43.0 L112.8 41.2 L114.7 40.7 L114.5 39.3 L115.1 38.2 L115.3 37.0 L115.6 35.7 L116.9 35.1 L117.5 34.0 L118.7 33.5 L118.9 31.9 L120.7 32.2 L121.4 31.1 L122.3 30.3 L123.3 29.5 L124.4 29.1 L125.6 28.6 L126.8 28.7 L128.1 29.0 L129.3 29.1 L130.7 29.1 L131.3 30.4 L132.4 31.1 L132.6 32.5 L132.4 33.9 L133.4 34.7 L134.3 35.6 L135.3 36.5 L135.7 37.6 L136.3 38.6 L135.8 40.2 L136.9 41.0 L137.0 42.3 L137.8 43.2 L138.0 44.5 L137.9 45.8 L139.3 46.5 L139.7 47.7 L140.4 48.6 L140.2 50.1 L141.5 50.8 L142.1 51.8 L142.7 52.9 L143.2 54.0 L142.9 55.4 L142.4 56.9 L144.5 57.4 L144.1 58.8 L144.9 59.8 L146.0 60.6 L146.1 61.9 L146.6 63.0 L147.4 63.9 L146.8 65.6 L149.0 65.8 L148.6 67.3 L149.2 68.4 L150.1 69.2 L150.4 70.5 L150.6 71.7 L151.5 72.6 L151.9 73.7 L152.4 74.8 L154.1 75.3 L153.1 77.1 L153.3 78.4 L154.4 79.2 L154.9 80.3 L156.5 80.8 L156.5 82.2 L157.3 83.1 L157.7 84.2 L157.6 85.6 L158.8 86.4 L159.0 87.6 L160.3 88.4 L159.9 89.8 L160.3 91.0 L161.0 92.0 L161.4 93.1 L160.7 94.7 L162.4 95.3 L162.8 96.5 L163.0 97.6 L162.5 99.1 L162.5 100.4 L163.7 101.2 L164.6 102.1 L165.0 103.3 L164.8 104.7 L166.2 105.4 L165.7 107.0 L166.3 108.0 L167.4 108.8 L167.7 110.0 L168.3 111.1 L168.5 112.3 L170.2 112.7 L169.8 114.3 L171.0 115.0 L171.7 116.0 L171.9 117.3 L172.6 118.3 L173.5 119.2 L174.3 120.1 L174.5 121.3 L174.1 122.9 L174.4 124.1 L175.5 124.9 L175.8 126.1 L177.1 126.7 L177.4 127.9 L177.8 129.1 L179.0 129.8 L179.5 130.9 L179.6 132.2 L180.3 133.2 L181.1 134.1 L181.1 135.5 L181.9 136.4 L181.9 137.8 L182.8 138.6 L183.5 139.7 L183.8 140.8 L184.4 141.9 L185.2 142.8 L185.6 144.0 L185.6 145.3 L186.1 146.4 L186.3 147.6 L188.1 148.1 L188.1 149.4 L188.7 150.5 L188.9 151.7 L189.8 152.6 L190.3 153.6 L190.4 155.0 L191.2 155.9 L192.3 156.7 L191.8 158.3 L192.5 159.3 L193.7 160.0 L193.6 161.4 L194.8 162.2 L194.4 163.6 L195.5 164.5 L196.2 165.5 L196.5 166.6 L197.2 167.7 L197.3 168.9 L197.9 170.0 L198.5 171.1 L199.3 172.0 L201.1 172.3 L200.1 174.2 L201.8 174.7 L201.2 176.4 L201.4 177.7 L202.4 178.5 L203.4 179.3 L203.9 180.4 L204.4 181.4 L205.3 182.3 L205.9 183.4 L206.7 184.3 L206.3 186.0 L207.5 186.6 L207.7 187.9 L208.9 188.6 L209.4 189.7 L210.2 190.6 L210.5 191.8 L211.0 193.0 L211.9 193.8 L213.0 194.5 L213.7 195.5 L213.1 197.3 L214.8 197.6 L215.4 198.6 L215.2 200.2 L216.1 201.1 L217.0 201.9 L218.2 202.6 L217.6 204.5 L219.2 204.8 L219.9 205.8 L221.0 206.4 L222.3 206.8 L223.1 207.8 L223.1 209.4 L224.0 210.2 L225.1 210.8 L226.3 211.3 L227.3 212.0 L227.7 213.3 L229.0 213.6 L228.9 215.5 L229.7 216.4 L229.9 218.0 L231.6 217.9 L233.1 218.0 L234.1 218.6 L236.0 218.2 L235.9 220.3 L236.6 221.3 L237.1 222.5 L238.2 223.1 L239.2 223.8 L240.3 224.4 L241.1 225.3 L241.7 226.4 L243.6 226.0 L244.3 227.0 L245.6 227.3 L245.4 229.5 L246.5 230.1 L247.6 230.6 L249.3 230.5 L249.7 231.9 L250.7 232.4 L251.5 233.3 L252.6 234.0 L253.2 235.1 L254.5 235.4 L254.9 236.8 L256.1 237.2 L257.2 237.7 L258.1 238.6 L259.2 239.2 L259.6 240.5 L261.0 240.8 L261.7 241.8 L262.9 242.2 L264.2 242.4 L264.4 244.3 L266.0 244.0 L266.4 245.5 L267.5 246.0 L269.2 245.6 L270.0 246.5 L271.0 247.3 L272.1 247.6 L273.3 247.9 L273.9 249.4 L275.3 249.3 L276.3 250.1 L277.6 250.1 L278.5 250.9 L279.9 250.7 L280.9 251.5 L281.9 252.3 L283.1 252.4 L284.3 252.5 L285.6 252.5 L286.5 253.6 L287.6 254.1 L288.9 254.1 L290.1 254.2 L291.0 255.3 L291.8 256.7 L293.4 255.5 L294.5 256.1 L295.7 256.5 L297.3 255.0 L298.0 256.9 L299.3 256.7 L300.2 258.2 L301.6 257.5 L302.8 257.4 L303.9 258.0 L305.1 258.5 L306.3 258.3 L307.4 258.9 L308.8 258.4 L309.8 259.4 L310.8 260.2 L311.8 261.2 L313.1 260.8 L314.4 260.8 L315.4 261.6 L316.6 261.7 L317.8 262.3 L319.0 262.2 L320.3 261.6 L321.5 262.0 L322.7 262.1 L323.9 262.3 L325.1 262.3 L326.3 261.8 L327.6 261.1 L328.7 262.0 L329.9 261.3 L331.1 262.6 L332.3 262.6 L333.5 261.7 L334.7 263.1 L335.8 263.3 L337.1 262.9 L338.2 263.9 L339.4 264.1 L340.7 262.3 L341.8 263.7 L343.1 263.4 L344.3 263.4 L345.4 263.7 L346.7 262.8 L347.9 262.9 L349.1 262.8 L350.3 262.9 L351.5 263.3 L352.7 262.6 L353.9 262.9 L355.0 263.9 L356.3 263.5 L357.4 263.8 L358.7 262.5 L359.9 263.2 L361.1 263.4 L362.3 263.7 L363.5 263.4 L364.6 264.3 L365.9 263.8 L366.8 263.8"/>
<path stroke="#000080" d="M61.0 236.7 L61.8 235.8 L62.2 234.6 L63.2 233.8 L63.7 232.7 L64.2 231.6 L64.8 230.6 L65.5 229.6 L66.1 228.6 L66.7 227.5 L67.1 226.4 L67.8 225.4 L68.2 224.3 L69.0 223.3 L69.4 222.1 L69.5 220.9 L70.8 220.2 L71.2 219.0 L71.5 217.8 L72.3 216.9 L72.7 215.8 L73.9 215.0 L74.1 213.8 L74.2 212.5 L75.2 211.7 L75.6 210.5 L76.6 209.6 L76.4 208.3 L76.7 207.1 L77.6 206.2 L78.0 205.0 L78.4 203.9 L78.4 202.6 L79.3 201.7 L79.9 200.6 L79.4 199.2 L80.5 198.2 L80.4 197.0 L81.3 196.0 L81.2 194.7 L81.3 193.5 L81.8 192.4 L82.0 191.2 L82.0 190.0 L82.5 188.8 L82.5 187.6 L82.4 186.4 L83.6 185.4 L83.2 184.1 L83.4 182.9 L83.9 181.8 L83.7 180.5 L84.0 179.4 L84.4 178.2 L84.7 177.0 L85.1 175.9 L85.6 174.8 L85.4 173.5 L85.9 172.4 L86.1 171.2 L86.0 170.0 L86.5 168.8 L86.5 167.6 L87.2 166.5 L87.2 165.3 L87.4 164.1 L87.3 162.9 L87.9 161.8 L87.9 160.6 L88.5 159.4 L88.5 158.2 L88.6 157.0 L89.2 155.9 L89.4 154.7 L89.3 153.5 L90.0 152.4 L89.9 151.2 L90.1 150.0 L90.4 148.8 L90.4 147.6 L90.7 146.4 L91.0 145.3 L91.6 144.2 L91.8 143.0 L91.5 141.7 L92.2 140.6 L92.0 139.3 L92.2 138.2 L92.5 137.0 L92.5 135.8 L93.2 134.7 L92.8 133.4 L92.6 132.2 L93.4 131.1 L93.1 129.8 L93.3 128.6 L92.8 127.4 L93.9 126.3 L94.0 125.1 L94.1 123.9 L94.3 122.7 L94.6 121.5 L94.3 120.3 L94.7 119.1 L94.5 117.9 L94.7 116.7 L95.2 115.6 L95.2 114.4 L94.9 113.1 L95.5 112.0 L95.5 110.8 L95.5 109.6 L96.0 108.4 L95.9 107.2 L95.8 106.0 L96.1 104.8 L96.9 103.7 L96.3 102.4 L96.9 101.3 L97.1 100.1 L97.3 98.9 L97.1 97.6 L97.5 96.5 L97.8 95.3 L98.2 94.2 L98.1 93.0 L98.3 91.8 L99.1 90.7 L99.4 89.6 L99.5 88.3 L99.6 87.1 L100.1 86.0 L100.3 84.8 L100.7 83.7 L100.5 82.4 L101.0 81.3 L101.2 80.1 L101.2 78.9 L101.8 77.8 L101.9 76.6 L102.1 75.4 L102.5 74.3 L102.3 73.0 L102.8 71.9 L103.2 70.7 L103.4 69.5 L103.8 68.4 L103.5 67.1 L103.7 65.9 L104.4 64.8 L104.7 63.7 L105.4 62.6 L105.4 61.4 L105.4 60.1 L106.2 59.1 L106.2 57.9 L106.5 56.7 L107.8 55.9 L107.8 54.6 L108.3 53.5 L108.7 52.4 L109.4 51.4 L109.5 50.2 L110.2 49.1 L109.9 47.7 L110.1 46.5 L111.8 45.9 L112.2 44.7 L112.2 43.5 L112.5 42.3 L112.9 41.2 L113.0 39.9 L114.5 39.3 L114.7 38.0 L115.2 37.0 L115.7 35.9 L116.7 35.1 L117.2 34.0 L118.1 33.3 L118.3 31.8 L119.8 31.6 L121.2 31.7 L121.6 30.0 L122.8 29.7 L124.1 29.7 L125.2 29.5 L126.3 29.1 L127.4 27.9 L128.7 29.0 L130.0 28.4 L131.2 28.9 L131.9 30.1 L133.1 30.5 L133.4 31.8 L133.0 33.3 L134.5 33.8 L135.1 34.9 L136.2 35.7 L136.6 36.8 L137.3 37.9 L137.5 39.1 L138.2 40.0 L138.5 41.2 L138.8 42.4 L139.7 43.4 L140.3 44.4 L140.8 45.5 L140.5 46.9 L141.2 47.9 L141.3 49.2 L141.8 50.3 L142.9 51.1 L143.0 52.4 L144.4 53.0 L143.3 54.9 L144.3 55.7 L145.3 56.6 L146.2 57.5 L146.0 58.9 L147.5 59.6 L147.5 60.9 L147.4 62.3 L148.2 63.2 L149.0 64.1 L148.9 65.5 L150.3 66.1 L150.3 67.5 L151.2 68.4 L151.9 69.4 L151.9 70.7 L153.1 71.5 L152.4 73.2 L154.0 73.7 L153.5 75.3 L155.4 75.7 L155.2 77.1 L156.5 77.8 L157.1 78.9 L157.0 80.3 L157.3 81.4 L158.7 82.1 L158.1 83.7 L159.5 84.4 L159.6 85.7 L160.0 86.8 L160.4 87.9 L161.9 88.6 L160.8 90.3 L161.7 91.3 L162.6 92.2 L163.3 93.3 L163.9 94.3 L164.2 95.5 L163.7 96.9 L164.5 97.9 L165.2 98.9 L165.4 100.1 L164.9 101.6 L166.2 102.4 L166.7 103.5 L166.4 104.9 L167.3 105.8 L168.0 106.8 L168.8 107.8 L169.8 108.6 L170.2 109.7 L170.5 111.0 L170.9 112.1 L171.3 113.2 L171.8 114.3 L172.5 115.3 L173.0 116.4 L174.1 117.2 L175.1 118.0 L175.0 119.4 L175.7 120.4 L176.1 121.6 L176.5 122.7 L177.4 123.6 L177.9 124.7 L178.0 126.0 L178.5 127.1 L179.4 128.0 L179.4 129.3 L180.3 130.2 L181.2 131.1 L181.3 132.4 L181.0 133.9 L182.7 134.4 L182.4 135.8 L182.9 137.0 L183.3 138.1 L184.9 138.6 L184.2 140.3 L185.5 141.0 L186.2 142.0 L186.7 143.1 L186.8 144.4 L187.5 145.3 L188.2 146.4 L188.0 147.8 L189.4 148.4 L190.1 149.5 L189.8 150.9 L190.4 152.0 L190.8 153.1 L192.3 153.7 L191.9 155.2 L192.7 156.2 L192.8 157.5 L194.6 157.9 L194.5 159.3 L195.2 160.3 L196.3 161.1 L196.4 162.4 L196.1 163.8 L197.3 164.6 L197.9 165.7 L197.7 167.1 L198.1 168.2 L198.7 169.3 L200.0 170.0 L200.2 171.2 L200.2 172.6 L201.6 173.2 L202.3 174.2 L202.0 175.7 L202.2 177.0 L204.3 177.2 L205.6 177.8 L205.6 179.2 L206.0 180.3 L206.2 181.6 L206.4 182.9 L207.4 183.7 L208.3 184.5 L208.5 185.8 L209.7 186.5 L209.9 187.8 L210.8 188.6 L209.8 190.7 L211.4 191.1 L212.9 191.6 L213.6 192.5 L214.0 193.7 L215.2 194.3 L215.4 195.6 L216.1 196.7 L215.9 198.2 L217.2 198.8 L218.0 199.6 L219.0 200.4 L219.6 201.5 L219.7 202.8 L220.5 203.8 L220.6 205.2 L222.2 205.5 L222.2 207.1 L223.3 207.7 L224.2 208.5 L225.9 208.5 L226.4 209.7 L226.4 211.4 L226.9 212.5 L228.3 212.9 L228.9 213.9 L230.3 214.2 L231.2 215.1 L232.2 215.7 L232.4 217.3 L233.6 217.8 L234.7 218.3 L235.7 219.0 L236.3 220.2 L237.3 220.8 L238.7 221.0 L238.8 222.9 L240.2 222.9 L241.3 223.5 L241.8 224.9 L242.9 225.4 L244.3 225.6 L245.0 226.6 L246.5 226.5 L247.3 227.5 L248.9 227.4 L248.5 229.8 L250.6 229.1 L250.6 231.1 L252.1 231.1 L253.1 231.8 L253.7 233.0 L254.4 234.0 L255.2 234.9 L255.7 236.2 L257.2 236.3 L257.9 237.3 L259.4 237.4 L259.8 238.7 L261.0 239.2 L262.2 239.7 L263.0 240.6 L263.9 241.4 L264.7 242.2 L265.6 243.0 L266.9 243.3 L268.0 243.9 L268.5 245.3 L270.3 244.6 L271.0 245.8 L271.4 247.5 L273.6 245.7 L274.2 247.3 L275.0 248.5 L276.6 247.7 L276.8 250.5 L279.0 248.0 L279.3 250.7 L280.4 251.2 L281.7 251.2 L283.0 251.0 L284.1 251.7 L285.4 251.4 L286.2 252.8 L287.7 252.1 L288.7 252.9 L289.6 254.0 L291.2 253.2 L292.2 254.0 L293.2 254.6 L294.6 254.1 L295.4 255.9 L296.7 255.7 L298.1 254.9 L299.0 256.0 L300.3 255.9 L301.5 256.2 L302.5 256.9 L303.8 256.7 L304.8 258.0 L306.2 257.2 L307.1 258.5 L308.4 258.2 L309.5 259.0 L310.8 258.4 L312.0 258.7 L313.2 258.6 L314.2 259.9 L315.3 260.4 L316.3 261.4 L317.6 261.1 L318.9 260.8 L320.1 260.7 L321.3 261.2 L322.5 261.2 L323.6 262.2 L324.8 262.0 L326.1 261.0 L327.3 261.2 L328.4 262.5 L329.6 262.0 L330.9 261.7 L332.0 262.6 L333.3 261.8 L334.5 261.9 L335.7 261.8 L336.9 261.0 L338.0 262.7 L339.3 261.5 L340.5 262.0 L341.7 261.9 L342.8 262.8 L344.0 262.4 L345.2 262.5 L346.5 261.5 L347.6 262.5 L348.9 261.8 L350.0 262.9 L351.2 263.0 L352.4 262.8 L353.6 264.0 L354.8 263.2 L356.0 263.3 L357.2 263.0 L358.4 262.9 L359.6 263.6 L360.8 263.7 L362.0 262.3 L363.2 263.7 L364.4 263.4 L365.6 263.7 L366.8 263.5 L366.9 262.5"/>
</g>
<rect x="60.9" y="16.7" width="306.5" height="248.6" fill="none" stroke="#404040" stroke-width="1.7"/>
<path d="M56.5 265.0 H60.9 M56.5 217.7 H60.9 M56.5 170.3 H60.9 M56.5 123.0 H60.9 M56.5 75.6 H60.9 M56.5 28.3 H60.9 M58.6 241.3 H60.9 M58.6 194.0 H60.9 M58.6 146.7 H60.9 M58.6 99.3 H60.9 M58.6 52.0 H60.9 M70.7 265.3 V270.0 M120.1 265.3 V270.0 M169.6 265.3 V270.0 M219.0 265.3 V270.0 M268.5 265.3 V270.0 M317.9 265.3 V270.0 M367.4 265.3 V270.0 M95.4 265.3 V267.7 M144.9 265.3 V267.7 M194.3 265.3 V267.7 M243.8 265.3 V267.7 M293.2 265.3 V267.7 M342.7 265.3 V267.7" stroke="#404040" stroke-width="1.5" fill="none"/>
<g font-size="12" fill="#1a1a1a" text-anchor="end">
<text x="52.8" y="268.7">0.0</text>
<text x="52.8" y="221.4">0.2</text>
<text x="52.8" y="174.0">0.4</text>
<text x="52.8" y="126.7">0.6</text>
<text x="52.8" y="79.3">0.8</text>
<text x="52.8" y="32.0">1.0</text>
</g>
<g font-size="12" fill="#1a1a1a" text-anchor="middle">
<text x="70.7" y="283">400</text>
<text x="120.1" y="283">450</text>
<text x="169.6" y="283">500</text>
<text x="219.0" y="283">550</text>
<text x="268.5" y="283">600</text>
<text x="317.9" y="283">650</text>
<text x="367.4" y="283">700</text>
</g>
<text x="142.9" y="309.1" font-size="19" fill="#111">Wavelength (nm)</text>
<text transform="translate(15.0 253.9) rotate(-90)" font-size="18.8" fill="#111">Normalized Intensity (a. u.)</text>
<text class="b" x="6.9" y="13.2" font-size="18" fill="#000">(a)</text>
<path d="M287.9 29.0 H314.2" stroke="#000000" stroke-width="2"/>
<text x="317.4" y="32.1" font-size="11.5" fill="#1a1a1a">0% Gd</text>
<path d="M287.9 43.1 H314.2" stroke="#ff0000" stroke-width="2"/>
<text x="317.4" y="46.2" font-size="11.5" fill="#1a1a1a">1% Gd</text>
<path d="M287.9 57.2 H314.2" stroke="#0000ff" stroke-width="2"/>
<text x="317.4" y="60.3" font-size="11.5" fill="#1a1a1a">3% Gd</text>
<path d="M287.9 71.3 H314.2" stroke="#ff00ff" stroke-width="2"/>
<text x="317.4" y="74.4" font-size="11.5" fill="#1a1a1a">5% Gd</text>
<path d="M287.9 85.4 H314.2" stroke="#008000" stroke-width="2"/>
<text x="317.4" y="88.5" font-size="11.5" fill="#1a1a1a">7% Gd</text>
<path d="M287.9 99.5 H314.2" stroke="#000080" stroke-width="2"/>
<text x="317.4" y="102.6" font-size="11.5" fill="#1a1a1a">10% Gd</text>
<g fill="none" stroke-width="1.5" stroke-linejoin="round" stroke-linecap="round">
<path stroke="#ff8c1e" d="M440.5 214.9 L441.6 216.1 L442.9 215.6 L444.1 215.1 L445.3 215.8 L446.5 215.6 L447.7 215.1 L448.9 215.0 L450.0 215.2 L451.3 215.8 L452.5 215.5 L453.7 215.4 L454.9 215.4 L456.1 215.3 L457.0 214.2 L458.3 214.5 L459.4 213.9 L460.4 213.3 L461.6 212.9 L462.7 212.5 L463.7 211.9 L464.6 210.9 L465.8 210.7 L467.3 210.9 L467.9 209.4 L468.9 208.7 L470.3 208.8 L471.4 208.4 L472.4 207.8 L473.2 206.8 L474.7 206.9 L475.5 205.9 L476.6 205.3 L477.8 205.2 L479.1 205.1 L480.3 205.3 L481.4 205.4 L482.6 205.3 L483.7 205.9 L485.0 205.9 L486.0 206.6 L487.4 206.3 L488.5 206.7 L489.3 207.9 L490.7 207.7 L491.7 208.5 L492.8 209.0 L494.0 209.3 L495.1 209.7 L496.0 210.7 L497.6 209.8 L498.3 211.4 L499.2 212.3 L500.6 211.9 L501.8 212.3 L502.8 213.0 L503.9 213.7 L505.3 213.1 L506.3 213.8 L507.5 213.9 L508.7 214.4 L509.9 214.5 L511.0 214.9 L512.3 214.7 L513.4 215.0 L514.7 214.9 L515.9 215.1 L517.0 215.4 L518.2 215.6 L519.4 215.4 L520.5 216.5 L521.8 216.1 L523.0 215.9 L524.1 216.9 L525.4 216.5 L526.5 217.1 L527.7 217.2 L528.8 217.5 L530.0 217.7 L531.2 217.6 L532.4 218.1 L533.4 219.0 L534.9 217.8 L535.9 218.8 L537.1 219.2 L538.3 218.9 L539.5 219.0 L540.5 220.5 L541.8 219.9 L542.8 221.0 L544.1 220.8 L545.3 220.9 L546.4 221.3 L547.6 221.7 L548.7 222.2 L549.9 222.2 L551.1 222.4 L552.3 222.7 L553.3 223.3 L554.6 223.4 L555.9 223.1 L557.0 223.4 L558.1 224.0 L559.4 223.9 L560.5 224.2 L561.7 224.2 L562.9 224.6 L564.0 225.0 L565.2 225.3 L566.4 225.1 L567.6 226.0 L568.8 225.3 L569.9 226.6 L571.2 225.9 L572.4 225.9 L573.6 225.6 L574.9 224.9 L576.0 226.0 L577.2 226.2 L578.3 226.9 L579.6 225.9 L580.7 227.1 L582.0 226.5 L583.1 227.0 L584.5 226.0 L585.5 227.1 L586.8 227.1 L587.9 227.6 L589.1 227.6 L590.4 227.3 L591.4 228.2 L592.6 228.3 L593.8 228.5 L595.0 228.8 L596.2 229.0 L597.4 228.8 L598.7 228.5 L599.9 228.6 L600.9 229.7 L602.2 229.6 L603.4 229.5 L604.6 229.4 L605.8 229.7 L607.0 229.8 L608.2 229.7 L609.4 229.7 L610.5 230.8 L611.7 230.2 L613.0 230.0 L614.2 229.8 L615.4 230.1 L616.5 230.7 L617.7 230.8 L618.9 230.6 L620.1 230.8 L621.3 230.7 L622.6 230.5 L623.7 231.5 L624.9 231.2 L626.0 232.1 L627.3 231.0 L628.5 231.3 L629.7 231.8 L630.9 231.5 L632.1 231.2 L633.3 231.4 L634.5 231.9 L635.7 232.0 L636.9 232.0 L638.1 232.4 L639.3 232.5 L640.5 232.4 L641.7 232.3 L642.9 232.3 L644.1 232.7 L645.2 232.9 L646.5 232.6 L647.7 232.8 L648.9 232.6 L650.1 232.3 L651.3 232.5 L652.4 233.2 L653.6 233.1 L654.8 233.6 L656.1 233.1 L657.2 233.4 L658.4 233.6 L659.6 233.6 L660.9 233.1 L662.1 233.3 L663.2 233.4 L664.5 233.1 L665.6 233.7 L666.8 233.9 L668.0 233.5 L669.2 234.4 L670.4 233.7 L671.6 233.8 L672.8 233.9 L674.0 233.8 L675.2 234.2 L676.4 234.2 L677.6 234.8 L678.8 234.5 L680.0 234.6 L681.2 234.4 L682.4 234.1 L683.6 234.6 L684.8 234.4 L686.0 235.2 L687.2 234.9 L688.4 235.6 L689.6 235.3 L690.8 235.5 L692.0 235.3 L693.2 235.4 L694.4 235.7 L695.5 235.9 L696.8 235.4 L698.0 235.9 L699.1 236.7 L700.4 235.9 L701.6 235.9 L702.8 235.9 L704.0 235.7 L704.5 236.7"/>
<path stroke="#ff0000" d="M440.5 181.5 L441.7 181.5 L443.0 181.9 L444.2 181.9 L445.2 180.5 L446.5 180.9 L447.6 180.5 L448.8 180.1 L449.9 179.7 L451.0 179.2 L452.3 179.3 L453.4 178.6 L454.5 178.1 L455.7 178.0 L456.8 177.4 L457.8 176.7 L458.8 176.1 L460.1 175.9 L460.9 174.9 L461.8 174.0 L462.6 173.1 L463.7 172.6 L464.5 171.7 L465.7 171.3 L466.7 170.6 L467.2 169.2 L468.6 169.1 L469.7 168.6 L470.5 167.7 L471.2 166.6 L472.7 166.5 L473.2 165.3 L474.2 164.5 L475.3 164.0 L476.5 163.8 L477.8 163.7 L478.9 163.6 L480.0 163.3 L481.3 163.2 L482.4 163.8 L483.5 164.4 L484.4 165.3 L485.7 165.6 L486.1 166.9 L486.8 167.9 L487.8 168.6 L488.5 169.7 L489.6 170.2 L490.6 170.9 L491.2 172.0 L491.5 173.3 L492.4 174.2 L493.6 174.7 L494.0 176.0 L495.3 176.3 L495.9 177.6 L497.2 177.9 L498.4 178.1 L499.4 178.9 L500.7 178.8 L501.8 179.1 L503.0 179.3 L504.0 180.3 L505.2 180.6 L506.3 181.0 L507.5 181.3 L508.3 182.3 L509.7 182.1 L510.8 182.5 L511.7 183.5 L512.9 184.0 L514.1 184.0 L515.5 183.6 L516.5 184.4 L517.6 185.1 L518.8 185.2 L519.8 186.0 L521.2 185.3 L522.2 186.2 L523.5 186.1 L524.5 187.0 L525.8 186.8 L526.9 187.4 L528.2 187.1 L529.4 187.1 L530.6 187.4 L531.7 187.9 L532.9 188.0 L533.9 189.0 L535.1 189.3 L536.3 189.2 L537.6 189.0 L538.7 189.6 L539.9 189.7 L540.9 190.8 L542.1 190.7 L543.3 191.1 L544.5 191.1 L545.8 190.8 L546.9 191.6 L548.1 191.8 L549.1 192.6 L550.3 192.8 L551.5 192.8 L552.6 193.3 L553.6 194.3 L555.0 193.7 L556.1 194.0 L557.3 194.5 L558.5 194.6 L559.6 195.0 L560.7 195.6 L561.8 196.2 L563.2 195.2 L564.3 196.0 L565.5 196.2 L566.7 196.4 L567.9 196.5 L569.1 196.6 L570.2 197.3 L571.4 196.9 L572.6 197.2 L573.8 197.4 L575.0 197.5 L576.2 197.6 L577.3 198.2 L578.6 198.0 L579.7 198.2 L580.9 198.3 L582.2 198.2 L583.3 198.5 L584.5 198.6 L585.6 199.3 L586.9 199.3 L588.1 199.5 L589.1 200.3 L590.2 200.7 L591.6 200.3 L592.4 201.9 L593.7 201.7 L594.8 202.0 L595.9 202.8 L597.1 202.7 L598.3 202.8 L599.3 204.0 L600.7 203.1 L601.8 203.7 L603.0 204.2 L604.2 203.7 L605.4 204.2 L606.6 204.5 L607.7 205.4 L609.0 204.4 L610.1 204.8 L611.3 205.2 L612.5 205.2 L613.8 204.8 L614.9 205.5 L616.1 205.6 L617.3 205.8 L618.4 206.2 L619.6 206.3 L620.9 206.3 L622.0 206.4 L623.3 206.1 L624.4 206.6 L625.6 206.9 L626.8 206.8 L628.0 207.2 L629.2 207.1 L630.3 208.1 L631.4 208.5 L632.7 207.8 L633.9 208.3 L635.1 208.3 L636.2 209.0 L637.4 208.9 L638.6 208.9 L639.8 209.0 L641.0 209.3 L642.3 209.1 L643.4 209.8 L644.6 209.4 L645.8 210.0 L647.0 210.0 L648.1 210.5 L649.4 210.2 L650.5 210.7 L651.8 210.1 L652.9 210.8 L654.2 210.6 L655.3 210.8 L656.5 210.9 L657.7 211.3 L659.0 210.4 L660.1 211.3 L661.4 210.8 L662.5 211.8 L663.8 210.8 L664.9 211.2 L666.2 211.1 L667.3 212.3 L668.5 211.4 L669.7 211.9 L670.9 211.8 L672.1 211.4 L673.3 212.0 L674.5 212.5 L675.7 212.2 L676.9 212.7 L678.1 212.3 L679.3 212.5 L680.5 212.5 L681.7 212.8 L682.8 213.4 L684.1 213.0 L685.3 213.0 L686.5 212.8 L687.7 212.8 L688.8 213.6 L690.1 212.8 L691.3 212.9 L692.5 213.3 L693.7 213.2 L694.8 214.1 L696.1 212.7 L697.2 213.7 L698.4 213.9 L699.7 213.3 L700.9 213.5 L702.0 213.9 L703.2 214.4 L704.5 213.6 L704.9 213.3"/>
<path stroke="#0000ff" d="M440.5 186.1 L441.7 186.2 L442.9 185.4 L443.9 184.6 L445.4 185.6 L446.4 184.7 L447.7 184.8 L448.7 184.0 L449.8 183.5 L450.9 183.1 L452.2 183.2 L453.3 182.7 L453.9 181.1 L455.1 180.9 L456.7 181.2 L457.3 179.9 L458.0 178.9 L459.2 178.4 L460.0 177.5 L460.8 176.6 L461.5 175.6 L462.3 174.7 L463.0 173.8 L463.9 173.0 L464.4 171.8 L465.3 171.0 L466.1 170.1 L467.2 169.5 L467.8 168.4 L468.4 167.4 L469.4 166.7 L470.2 165.7 L471.2 165.0 L471.8 164.0 L472.9 163.4 L473.7 162.5 L474.3 161.5 L475.3 160.7 L476.6 160.7 L477.7 160.2 L478.8 159.9 L480.2 159.5 L481.4 160.0 L482.0 161.3 L482.8 162.2 L483.6 163.1 L485.0 163.5 L485.1 164.9 L486.3 165.6 L486.7 166.7 L487.3 167.7 L488.3 168.5 L489.0 169.5 L490.1 170.1 L490.5 171.3 L491.5 172.1 L491.6 173.5 L492.5 174.4 L493.0 175.5 L493.9 176.3 L495.0 177.0 L495.6 178.1 L496.6 178.7 L497.3 179.7 L498.3 180.4 L499.6 180.7 L500.4 181.6 L501.4 182.2 L502.5 182.7 L503.4 183.7 L504.2 184.6 L505.6 184.6 L506.6 185.3 L508.0 185.4 L508.5 186.8 L509.5 187.5 L510.8 187.8 L511.1 189.2 L512.0 190.1 L513.2 190.4 L514.1 191.2 L515.2 191.7 L515.9 192.9 L517.3 192.8 L518.2 193.8 L518.8 195.1 L520.2 195.1 L521.2 195.8 L522.3 196.2 L523.6 196.4 L524.4 197.3 L525.4 198.0 L526.7 198.1 L527.6 199.0 L528.6 199.8 L529.7 200.3 L531.2 199.9 L532.2 200.6 L533.4 200.9 L534.1 202.2 L535.2 202.6 L536.3 203.1 L537.7 203.0 L538.8 203.4 L539.7 204.3 L540.8 204.7 L542.1 204.9 L543.1 205.6 L544.1 206.3 L545.3 206.6 L546.6 206.6 L547.8 206.7 L548.7 207.7 L549.8 208.3 L551.0 208.5 L552.1 208.9 L553.3 209.2 L554.2 210.1 L555.5 210.2 L556.6 210.6 L557.8 210.6 L558.9 211.1 L560.0 211.8 L561.3 211.7 L562.4 212.0 L563.5 212.6 L564.5 213.5 L565.7 213.5 L566.8 214.2 L568.1 214.0 L569.3 214.2 L570.5 214.2 L571.6 214.7 L572.6 215.7 L573.9 215.6 L575.0 216.0 L576.2 216.3 L577.4 216.3 L578.6 216.5 L579.7 216.9 L580.9 217.4 L582.0 217.6 L583.2 217.9 L584.4 218.0 L585.6 218.0 L586.8 218.4 L588.0 218.5 L589.0 219.4 L590.4 218.6 L591.4 219.5 L592.4 220.7 L593.8 220.0 L595.0 220.0 L596.1 220.6 L597.2 221.3 L598.5 221.0 L599.6 221.4 L600.8 221.5 L602.1 221.5 L603.1 222.9 L604.4 222.0 L605.6 222.0 L606.8 222.1 L608.0 222.6 L609.1 222.8 L610.3 223.0 L611.5 223.0 L612.8 222.6 L613.9 223.4 L615.1 223.2 L616.3 223.4 L617.6 223.1 L618.7 223.6 L619.9 223.7 L621.1 224.0 L622.3 223.7 L623.5 224.4 L624.6 224.5 L625.9 224.3 L627.1 224.6 L628.3 224.6 L629.4 225.4 L630.7 224.3 L631.8 225.2 L633.1 224.9 L634.2 225.5 L635.3 226.1 L636.6 225.7 L637.7 226.1 L639.0 225.9 L640.1 227.0 L641.3 226.8 L642.5 227.0 L643.8 226.3 L644.9 226.6 L646.0 227.5 L647.3 227.2 L648.5 227.3 L649.7 227.6 L650.9 227.2 L652.0 228.1 L653.2 228.0 L654.4 228.3 L655.6 228.0 L656.8 228.6 L658.0 228.3 L659.2 229.0 L660.3 229.2 L661.5 229.3 L662.7 229.3 L663.9 229.5 L665.3 228.5 L666.3 229.8 L667.5 229.6 L668.7 229.8 L669.9 229.8 L671.2 229.5 L672.3 230.0 L673.5 230.5 L674.6 230.9 L675.9 230.3 L677.1 230.3 L678.2 231.3 L679.5 230.6 L680.6 231.7 L681.9 231.1 L683.1 230.9 L684.2 231.7 L685.4 232.0 L686.7 231.1 L687.8 232.2 L689.0 231.7 L690.2 232.4 L691.4 231.9 L692.7 231.5 L693.8 232.4 L695.0 232.6 L696.1 233.1 L697.4 233.1 L698.6 232.8 L699.8 232.6 L701.0 232.6 L702.2 232.8 L703.4 232.7 L704.5 233.0"/>
<path stroke="#138a13" d="M440.3 150.4 L441.7 151.1 L442.8 150.7 L444.3 151.2 L445.2 150.2 L446.1 149.3 L447.4 149.1 L448.1 147.9 L449.2 147.5 L450.0 146.5 L451.6 146.8 L452.4 145.8 L453.0 144.6 L454.2 144.2 L455.4 143.8 L456.3 142.9 L457.1 142.1 L457.6 140.9 L458.5 140.1 L459.5 139.3 L460.4 138.5 L460.7 137.2 L461.3 136.2 L462.7 135.7 L462.8 134.3 L464.1 133.8 L464.6 132.6 L465.4 131.8 L466.4 131.0 L466.7 129.7 L467.4 128.8 L467.6 127.5 L468.4 126.5 L469.4 125.8 L470.3 124.9 L470.9 123.9 L471.8 123.0 L471.9 121.6 L472.5 120.6 L473.3 119.7 L473.7 118.6 L474.5 117.6 L475.0 116.5 L476.4 116.2 L476.9 114.9 L478.2 114.7 L479.2 113.7 L480.4 114.5 L481.7 114.3 L482.3 115.6 L483.7 115.9 L484.2 117.1 L484.4 118.4 L485.6 119.1 L485.9 120.3 L486.6 121.3 L487.7 122.1 L487.3 123.6 L487.8 124.7 L488.9 125.5 L488.9 126.8 L489.9 127.6 L490.6 128.6 L490.9 129.8 L491.8 130.7 L491.6 132.3 L493.3 132.5 L493.3 134.0 L494.0 135.0 L495.5 135.4 L496.1 136.4 L496.3 137.8 L497.4 138.4 L498.0 139.5 L498.7 140.5 L500.0 140.8 L501.1 141.4 L502.4 141.6 L502.8 143.1 L504.0 143.5 L504.8 144.5 L505.8 145.1 L507.1 145.4 L507.4 146.9 L508.5 147.5 L509.5 148.1 L510.9 148.4 L511.6 149.4 L512.6 150.1 L513.4 151.0 L514.4 151.6 L515.0 152.8 L515.9 153.6 L516.7 154.4 L517.9 155.0 L518.4 156.2 L519.6 156.6 L521.2 156.4 L521.8 157.7 L522.7 158.5 L523.5 159.4 L524.8 159.7 L525.8 160.3 L526.9 160.8 L527.7 161.8 L528.9 162.2 L529.9 162.8 L530.9 163.5 L531.6 164.6 L532.8 165.0 L534.0 165.4 L534.4 166.8 L535.7 167.1 L536.4 168.2 L537.4 168.9 L538.2 169.8 L539.2 170.4 L540.5 170.6 L541.5 171.4 L542.7 171.7 L543.2 173.2 L544.4 173.4 L545.3 174.4 L546.6 174.5 L548.0 174.6 L548.3 176.3 L549.6 176.4 L550.6 177.1 L551.7 177.7 L552.6 178.5 L553.7 179.1 L555.1 179.0 L555.6 180.5 L556.9 180.6 L558.0 181.2 L558.6 182.5 L559.8 182.8 L561.1 183.0 L562.4 183.1 L563.1 184.3 L564.1 185.0 L565.3 185.3 L566.5 185.5 L567.5 186.2 L568.7 186.6 L569.5 187.6 L570.5 188.4 L571.5 189.0 L572.8 189.0 L573.8 189.8 L574.8 190.4 L576.0 190.6 L577.1 191.2 L577.8 192.5 L579.2 192.4 L580.2 193.1 L581.5 193.1 L582.5 193.7 L583.9 193.6 L584.8 194.6 L585.7 195.5 L586.7 196.2 L587.9 196.4 L589.1 196.6 L590.3 196.8 L591.5 197.0 L592.6 197.6 L593.7 198.2 L595.0 198.2 L595.9 199.1 L597.3 198.9 L598.5 199.0 L599.5 199.6 L600.7 199.7 L601.9 200.2 L602.8 201.4 L604.0 201.3 L605.2 201.7 L606.2 202.4 L607.4 202.7 L608.7 202.5 L609.7 203.4 L610.9 203.4 L612.1 203.6 L613.2 204.1 L614.6 203.7 L615.7 204.3 L616.8 204.8 L617.8 205.3 L619.1 205.3 L620.2 205.7 L621.3 206.4 L622.4 206.8 L623.6 206.9 L624.7 207.4 L626.1 207.2 L627.2 207.5 L628.3 208.0 L629.5 208.1 L630.7 208.4 L631.7 209.4 L633.0 209.1 L634.2 209.1 L635.3 209.9 L636.3 210.7 L637.6 210.4 L638.7 211.0 L640.0 210.7 L641.2 211.0 L642.4 211.2 L643.5 211.6 L644.5 212.5 L645.9 211.7 L646.9 212.9 L648.3 212.3 L649.4 212.7 L650.5 213.3 L651.7 213.5 L652.9 213.6 L654.2 213.1 L655.3 214.0 L656.5 213.7 L657.5 215.2 L658.8 214.4 L660.0 214.7 L661.3 214.4 L662.4 214.9 L663.6 214.8 L664.7 215.7 L666.0 215.5 L667.1 215.9 L668.4 215.6 L669.5 215.9 L670.6 216.7 L671.9 216.0 L673.2 215.9 L674.2 216.8 L675.5 216.5 L676.7 216.9 L677.8 217.5 L679.1 217.1 L680.2 217.8 L681.4 217.4 L682.5 218.3 L683.7 218.4 L685.0 217.9 L686.2 218.2 L687.4 218.1 L688.5 218.6 L689.7 219.1 L691.0 218.3 L692.1 219.2 L693.4 218.6 L694.5 218.9 L695.8 218.7 L696.8 220.2 L698.1 219.6 L699.3 219.8 L700.5 219.6 L701.6 220.3 L702.9 219.3 L704.1 220.1 L704.9 221.0"/>
<path stroke="#000000" d="M440.4 120.5 L441.4 119.7 L442.4 119.0 L443.0 118.0 L444.0 117.3 L445.1 116.6 L445.9 115.7 L446.8 115.0 L447.6 114.1 L448.6 113.4 L449.5 112.6 L450.6 112.1 L451.5 111.2 L452.3 110.3 L452.9 109.3 L454.3 108.9 L455.1 108.1 L455.7 107.0 L456.3 105.9 L457.1 105.1 L458.1 104.3 L458.4 103.1 L459.1 102.1 L459.8 101.1 L460.5 100.1 L460.8 98.9 L461.3 97.8 L461.8 96.7 L462.7 95.8 L463.1 94.7 L463.3 93.5 L463.6 92.3 L464.1 91.2 L464.8 90.2 L464.9 89.0 L465.6 87.9 L465.9 86.8 L466.2 85.6 L466.7 84.5 L467.0 83.3 L467.1 82.1 L467.5 81.0 L468.4 80.0 L468.1 78.6 L468.7 77.6 L469.4 76.6 L469.6 75.4 L470.0 74.2 L470.4 73.1 L471.3 72.2 L472.0 71.2 L472.7 70.3 L473.2 69.1 L474.1 68.3 L474.5 67.1 L475.5 66.3 L476.2 65.4 L477.2 64.7 L478.3 64.2 L479.3 64.2 L480.4 64.6 L480.6 65.9 L481.4 66.8 L482.0 67.9 L482.2 69.1 L482.9 70.1 L483.1 71.3 L483.4 72.5 L483.9 73.6 L484.1 74.8 L484.6 75.9 L484.9 77.0 L485.5 78.1 L485.5 79.4 L486.0 80.5 L486.3 81.6 L486.5 82.8 L486.8 84.0 L487.5 85.0 L487.8 86.2 L487.9 87.4 L488.0 88.6 L488.4 89.8 L488.6 91.0 L488.9 92.1 L489.4 93.2 L489.9 94.3 L490.5 95.4 L490.8 96.5 L491.1 97.7 L491.4 98.9 L491.8 100.0 L492.2 101.1 L492.7 102.3 L492.9 103.4 L493.4 104.5 L493.8 105.7 L494.2 106.8 L494.8 107.9 L495.3 109.0 L495.4 110.2 L495.9 111.3 L496.4 112.4 L496.9 113.5 L496.9 114.8 L498.0 115.6 L498.5 116.7 L499.0 117.8 L499.9 118.6 L500.4 119.8 L500.8 120.9 L501.7 121.8 L502.5 122.7 L503.3 123.6 L504.1 124.5 L504.7 125.5 L505.6 126.3 L506.4 127.2 L507.1 128.3 L507.7 129.3 L508.5 130.2 L509.2 131.2 L510.3 131.8 L510.6 133.1 L511.1 134.2 L512.0 135.0 L513.0 135.8 L513.8 136.7 L514.4 137.8 L515.3 138.6 L515.8 139.7 L516.7 140.5 L517.2 141.7 L517.8 142.7 L519.1 143.2 L519.4 144.5 L520.3 145.3 L521.1 146.2 L521.7 147.3 L522.3 148.3 L522.8 149.4 L523.9 150.1 L524.2 151.4 L524.7 152.5 L525.6 153.3 L526.3 154.3 L527.1 155.2 L528.0 156.0 L528.5 157.2 L529.2 158.1 L529.9 159.1 L530.4 160.3 L531.4 161.0 L532.2 161.9 L532.8 163.0 L534.0 163.5 L534.7 164.5 L535.4 165.5 L536.2 166.4 L536.8 167.4 L537.8 168.2 L538.3 169.3 L539.2 170.1 L540.1 170.9 L541.2 171.6 L541.9 172.6 L542.7 173.4 L543.9 173.9 L544.6 174.9 L545.5 175.8 L546.5 176.4 L547.3 177.3 L548.4 177.9 L549.6 178.2 L550.6 178.9 L551.7 179.3 L552.7 180.1 L553.9 180.4 L554.8 181.2 L556.0 181.6 L557.0 182.2 L558.2 182.5 L559.4 182.7 L560.2 183.8 L561.4 184.0 L562.4 184.9 L563.5 185.3 L564.5 185.9 L565.4 186.7 L566.6 187.1 L567.5 187.9 L568.8 188.0 L569.6 189.1 L570.7 189.5 L571.7 190.2 L572.7 190.9 L573.7 191.6 L574.5 192.5 L575.9 192.5 L576.7 193.5 L577.8 194.0 L578.7 194.9 L579.9 195.3 L580.8 196.0 L582.0 196.4 L582.9 197.2 L584.0 197.8 L585.2 198.1 L586.2 198.7 L587.4 198.9 L588.4 199.7 L589.4 200.3 L590.6 200.5 L591.6 201.3 L593.0 201.2 L594.0 201.7 L595.1 202.2 L596.2 202.9 L597.2 203.4 L598.4 203.8 L599.5 204.2 L600.6 204.8 L601.8 205.0 L603.0 205.2 L604.1 205.7 L605.0 206.7 L606.4 206.2 L607.4 207.0 L608.5 207.7 L609.7 207.9 L610.9 208.0 L612.0 208.5 L613.1 209.0 L614.2 209.4 L615.5 209.3 L616.6 210.0 L617.7 210.2 L618.9 210.6 L620.0 211.0 L621.3 211.0 L622.5 211.0 L623.5 211.7 L624.6 212.3 L625.9 212.4 L627.0 212.6 L628.1 213.3 L629.4 212.9 L630.5 213.6 L631.7 213.6 L632.9 214.0 L634.0 214.3 L635.1 214.9 L636.4 214.7 L637.5 215.1 L638.8 215.1 L639.8 215.8 L641.0 215.9 L642.2 216.3 L643.4 216.3 L644.6 216.7 L645.7 217.2 L646.9 217.3 L648.0 217.7 L649.2 217.9 L650.4 218.0 L651.6 218.0 L652.7 218.8 L653.9 218.8 L655.1 219.2 L656.4 218.9 L657.5 219.2 L658.7 219.3 L659.8 219.8 L660.9 220.4 L662.1 220.5 L663.3 220.6 L664.5 220.9 L665.7 221.2 L666.9 221.2 L668.1 221.6 L669.2 221.7 L670.5 221.5 L671.6 222.0 L672.8 222.6 L674.0 222.4 L675.2 222.6 L676.4 222.7 L677.6 223.0 L678.7 223.5 L679.9 223.4 L681.1 223.4 L682.4 223.2 L683.5 223.9 L684.7 223.8 L685.9 224.0 L687.0 224.7 L688.2 224.8 L689.5 224.5 L690.6 225.2 L691.8 225.3 L693.0 225.2 L694.1 225.7 L695.4 225.4 L696.6 225.6 L697.8 225.7 L698.9 225.9 L700.1 226.5 L701.3 226.2 L702.5 226.4 L703.7 226.6 L704.7 226.9"/>
</g>
<rect x="439.6" y="37.4" width="266.0" height="223.6" fill="none" stroke="#000" stroke-width="2.6"/>
<path d="M435.6 261.0 H439.6 M435.6 226.6 H439.6 M435.6 192.1 H439.6 M435.6 157.7 H439.6 M435.6 123.3 H439.6 M435.6 88.8 H439.6 M435.6 54.4 H439.6 M437.3 243.8 H439.6 M437.3 209.4 H439.6 M437.3 174.9 H439.6 M437.3 140.5 H439.6 M437.3 106.1 H439.6 M437.3 71.6 H439.6 M469.3 261.0 V265.0 M513.6 261.0 V265.0 M558.0 261.0 V265.0 M602.3 261.0 V265.0 M646.6 261.0 V265.0 M690.9 261.0 V265.0 M447.1 261.0 V262.9 M491.5 261.0 V262.9 M535.8 261.0 V262.9 M580.1 261.0 V262.9 M624.4 261.0 V262.9 M668.8 261.0 V262.9" stroke="#000" stroke-width="2.2" fill="none"/>
<g font-size="14" class="b" fill="#000" text-anchor="end">
<text x="431.9" y="265.8">0.1</text>
<text x="431.9" y="231.4">0.2</text>
<text x="431.9" y="196.9">0.3</text>
<text x="431.9" y="162.5">0.4</text>
<text x="431.9" y="128.1">0.5</text>
<text x="431.9" y="93.6">0.6</text>
<text x="431.9" y="59.2">0.7</text>
</g>
<g font-size="14" class="b" fill="#000" text-anchor="middle">
<text x="469.3" y="279.8">300</text>
<text x="513.6" y="279.8">375</text>
<text x="558.0" y="279.8">450</text>
<text x="602.3" y="279.8">525</text>
<text x="646.6" y="279.8">600</text>
<text x="690.9" y="279.8">675</text>
</g>
<text class="b" x="499.3" y="298.7" font-size="18.3" fill="#000">Wavelength (nm)</text>
<text class="b" transform="translate(407.4 220.4) rotate(-90)" font-size="18.8" fill="#000">Absorbance (a.u.)</text>
<text class="b" x="391.5" y="13.2" font-size="18" fill="#000">(b)</text>
<path d="M591.6 51.2 H625.1" stroke="#ff8c1e" stroke-width="1.8"/>
<text class="b" x="628.6" y="56.3" font-size="14" fill="#000">gCN</text>
<path d="M591.6 70.4 H625.1" stroke="#ff0000" stroke-width="1.8"/>
<text class="b" x="628.6" y="75.5" font-size="14" fill="#000">GdgCN-1</text>
<path d="M591.6 89.6 H625.1" stroke="#0000ff" stroke-width="1.8"/>
<text class="b" x="628.6" y="94.7" font-size="14" fill="#000">GdgCN-3</text>
<path d="M591.6 108.8 H625.1" stroke="#138a13" stroke-width="1.8"/>
<text class="b" x="628.6" y="113.9" font-size="14" fill="#000">GdgCN-5</text>
<path d="M591.6 128.0 H625.1" stroke="#000000" stroke-width="1.8"/>
<text class="b" x="628.6" y="133.1" font-size="14" fill="#000">GdgCN-10</text>
</svg>
</body></html>
